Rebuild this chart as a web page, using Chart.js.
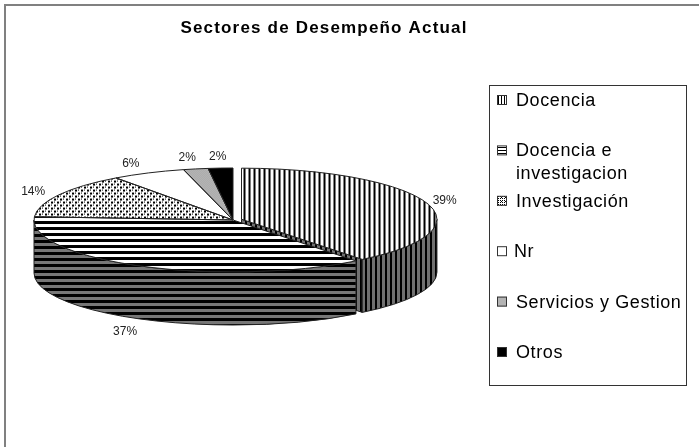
<!DOCTYPE html>
<html><head><meta charset="utf-8">
<style>html,body{margin:0;padding:0;background:#fff}#wrap{position:absolute;left:0;top:0;width:699px;height:447px}</style>
<script src="https://cdn.jsdelivr.net/npm/chart.js@4"></script>
</head><body><div id="wrap"><canvas id="c" width="699" height="447"></canvas></div>
<script>
const chartTitle = "Sectores de Desempeño Actual";
const categories = ["Docencia","Docencia e investigacion","Investigación","Nr","Servicios y Gestion","Otros"];
const values = [39.4,36.6,14,6,2,2];
const legendLines = [["Docencia"],["Docencia e","investigacion"],["Investigación"],["Nr"],["Servicios y Gestion"],["Otros"]];
const labelRadius = [215,232,228,240,244,244];
const explode = [36,0,0,0,0,0];

const CX=233, CY=220, R=199, K=52/199, DEPTH=53, TITLE_SHIFT=91;

function tile(w,h,draw){const c=document.createElement('canvas');c.width=w;c.height=h;const x=c.getContext('2d');draw(x);return document.createElement('canvas').getContext('2d').createPattern(c,'repeat');}
function stripes(dir,period,dark,base,fg){
  return tile(dir==='v'?period:1,dir==='v'?1:period,x=>{x.fillStyle=base;x.fillRect(0,0,period,period);x.fillStyle=fg;
    if(dir==='v')x.fillRect(0,0,dark,1);else x.fillRect(0,0,1,dark);});
}
function dots(){return tile(6,6,x=>{x.fillStyle='#fff';x.fillRect(0,0,6,6);x.fillStyle='#000';x.fillRect(0,0,2,2);x.fillRect(3,3,2,2);x.fillRect(3,0,1,1);x.fillRect(0,3,1,1);});}
const squash=new DOMMatrix([1,0,0,1/K,0,0]);
const squashPhase=new DOMMatrix([1,0,0,1/K,0,4.5/K]);
const topFaces=[stripes('v',5,2,'#fff','#000'),stripes('h',6,3,'#fff','#000'),dots(),'#ffffff',tile(2,2,x=>{x.fillStyle='#c8c8c8';x.fillRect(0,0,2,2);x.fillStyle='#999';x.fillRect(0,0,1,1);x.fillRect(1,1,1,1);}),'#000000'];
topFaces.forEach((p,i)=>{if(typeof p!=='string')p.setTransform(i===1?squashPhase:squash);});
const walls=[stripes('v',5,2,'#707070','#000'),stripes('h',6,3,'#777','#000'),'#555','#999','#777','#000'];
const swatches=[stripes('v',3,1,'#fff','#000'),stripes('h',3,1,'#fff','#000'),tile(4,4,x=>{x.fillStyle='#fff';x.fillRect(0,0,4,4);x.fillStyle='#000';x.fillRect(0,0,1,1);x.fillRect(2,2,1,1);x.fillRect(2,0,1,1);x.fillRect(0,2,1,1);x.fillRect(1,1,1,1);}),'#fff','#b4b4b4','#000'];

function geom(arc){
  const p=arc.options, off=(p.offset||0)/4, circ=arc.circumference;
  const mid=(arc.startAngle+arc.endAngle)/2, fix=1-Math.sin(Math.min(Math.PI,circ||0));
  return {x:arc.x+Math.cos(mid)*off,y:arc.y+Math.sin(mid)*off*K,r:arc.outerRadius+off*fix,a0:arc.startAngle,a1:arc.endAngle,mid};
}
function slicePath(ctx,g){ctx.beginPath();ctx.moveTo(g.x,g.y);ctx.ellipse(g.x,g.y,g.r,g.r*K,0,g.a0,g.a1);ctx.closePath();}

const pie3d={id:'pie3d',
  afterLayout(chart){const t=chart.titleBlock;if(t){t.left+=TITLE_SHIFT;t.right+=TITLE_SHIFT;}},
  afterDatasetsUpdate(chart){const a=chart.getDatasetMeta(0).data[0];a.outerRadius=192;},
  beforeDraw(chart){chart.ctx.letterSpacing='1.18px';
    const c=chart.ctx;c.save();c.fillStyle='#fff';c.fillRect(0,0,699,447);c.fillStyle='#808080';c.fillRect(4,4,695,2);c.fillRect(4,4,2,443);c.restore();},
  beforeDatasetsDraw(chart){
    const ctx=chart.ctx;ctx.letterSpacing='0px';
    const arcs=chart.getDatasetMeta(0).data;
    arcs.forEach((arc,i)=>{
      const g=geom(arc);
      ctx.save();ctx.lineWidth=1;ctx.strokeStyle='#222';ctx.fillStyle=walls[i];
      if(explode[i]>0){
        const ex=g.x+Math.cos(g.a1)*g.r, ey=g.y+Math.sin(g.a1)*g.r*K;
        ctx.beginPath();ctx.moveTo(g.x,g.y);ctx.lineTo(ex,ey);ctx.lineTo(ex,ey+DEPTH);ctx.lineTo(g.x,g.y+DEPTH);ctx.closePath();ctx.fill();ctx.stroke();
      }
      const t0=Math.max(g.a0,0), t1=Math.min(g.a1,Math.PI);
      if(t1>t0){
        ctx.beginPath();ctx.ellipse(g.x,g.y,g.r,g.r*K,0,t0,t1);ctx.ellipse(g.x,g.y+DEPTH,g.r,g.r*K,0,t1,t0,true);ctx.closePath();ctx.fill();ctx.stroke();
      }
      ctx.restore();
    });
  },
  beforeDatasetDraw(chart){const ctx=chart.ctx;ctx.save();ctx.translate(0,CY);ctx.scale(1,K);ctx.translate(0,-CY);},
  afterDatasetDraw(chart){
    const ctx=chart.ctx;ctx.restore();
    chart.getDatasetMeta(0).data.forEach(arc=>{ctx.save();ctx.lineWidth=1;ctx.strokeStyle='#222';slicePath(ctx,geom(arc));ctx.stroke();ctx.restore();});
  },
  afterDatasetsDraw(chart){
    const ctx=chart.ctx, arcs=chart.getDatasetMeta(0).data;
    ctx.save();
    ctx.font='12px "Liberation Sans"';ctx.fillStyle='#222';ctx.textAlign='center';ctx.textBaseline='middle';
    arcs.forEach((arc,i)=>{
      const g=geom(arc), r=labelRadius[i];
      const front=Math.sin(g.mid)>0.5&&Math.abs(Math.cos(g.mid))<0.6;
      const x=g.x+Math.cos(g.mid)*r, y=g.y+Math.sin(g.mid)*r*K+(front?DEPTH+5:0);
      ctx.fillText(Math.round(values[i])+'%',x,y);
    });
    // legend
    ctx.strokeStyle='#333';ctx.lineWidth=1;ctx.strokeRect(489.5,85.5,197,300);
    ctx.font='18px "Liberation Sans"';ctx.letterSpacing='0.6px';ctx.textAlign='left';ctx.fillStyle='#000';
    let y=100;
    legendLines.forEach((lines,i)=>{
      ctx.fillStyle=swatches[i];ctx.fillRect(497,y-5,10,10);
      ctx.strokeStyle='#333';ctx.strokeRect(497.5,y-4.5,9,9);
      ctx.fillStyle='#000';
      lines.forEach((t,j)=>ctx.fillText(t,i===3?514:516,y+j*23+1));
      y+=50.4;
    });
    ctx.restore();
  }
};

new Chart(document.getElementById('c'),{
  type:'pie',
  data:{labels:categories,datasets:[{data:values,backgroundColor:topFaces,borderWidth:0,offset:explode,clip:false}]},
  options:{responsive:false,animation:false,radius:R,events:[],
    layout:{padding:{left:0,right:699-2*CX,top:0,bottom:47.4}},
    plugins:{legend:{display:false},tooltip:{enabled:false},
      title:{display:true,text:chartTitle,color:'#000',font:{family:'"Liberation Sans"',size:17,weight:'bold'},padding:{top:18,bottom:2}}}
  },
  plugins:[pie3d]
});
</script></body></html>
